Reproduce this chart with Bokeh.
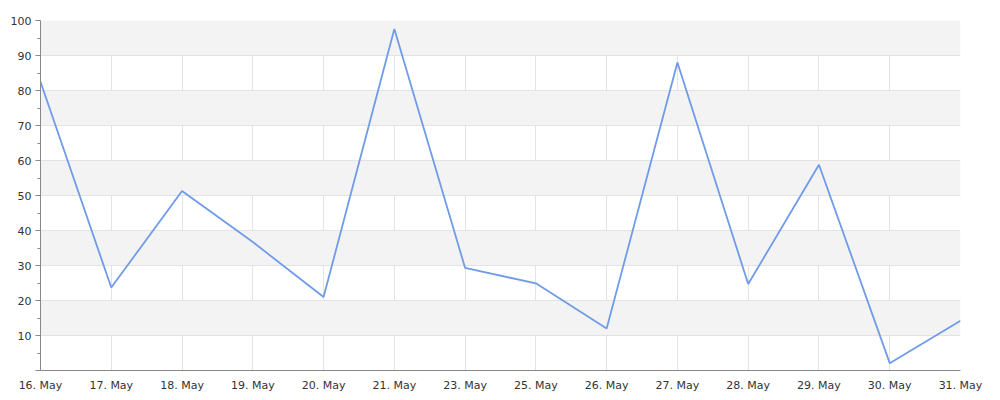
from bokeh.plotting import figure
from bokeh.models import Range1d, FixedTicker
from bokeh.embed import file_html
from bokeh.resources import INLINE

categories = ["16. May", "17. May", "18. May", "19. May", "20. May", "21. May", "23. May",
              "25. May", "26. May", "27. May", "28. May", "29. May", "30. May", "31. May"]
values = [82.5, 23.7, 51.3, 36.7, 21.0, 97.6, 29.3, 24.9, 12.0, 88.0, 24.7, 58.8, 2.1, 14.2]
y_ticks = [0, 10, 20, 30, 40, 50, 60, 70, 80, 90, 100]
y_minor = [5, 15, 25, 35, 45, 55, 65, 75, 85, 95]

xs = list(range(len(categories)))

p = figure(width=992, height=394, output_backend="svg", toolbar_location=None,
           x_range=Range1d(0, len(categories) - 1), y_range=Range1d(0, 100),
           min_border_left=40, min_border_right=32, min_border_top=20, min_border_bottom=22)
p.outline_line_color = None
p.background_fill_color = "white"

p.line(xs, values, line_color="#6f9be8", line_width=1.8)

FONT = "DejaVu Sans"
# x axis
p.xaxis.ticker = FixedTicker(ticks=xs, minor_ticks=[])
p.xaxis.major_label_overrides = {i: c for i, c in enumerate(categories)}
p.xaxis.major_tick_out = 0
p.xaxis.major_tick_in = 0
p.xaxis.minor_tick_out = 0
p.xaxis.axis_line_color = "#888888"
p.xaxis.major_label_standoff = 8
p.xaxis.major_label_text_font = FONT
p.xaxis.major_label_text_font_size = "11px"
p.xaxis.major_label_text_color = "#333333"

# y axis
p.yaxis.ticker = FixedTicker(ticks=y_ticks, minor_ticks=y_minor)
p.yaxis.major_label_overrides = {0: ""}
p.yaxis.axis_line_color = "#888888"
p.yaxis.major_tick_line_color = "#888888"
p.yaxis.minor_tick_line_color = "#888888"
p.yaxis.major_tick_out = 5
p.yaxis.major_tick_in = 0
p.yaxis.minor_tick_out = 3
p.yaxis.minor_tick_in = 0
p.yaxis.major_label_standoff = 4
p.yaxis.major_label_text_font = FONT
p.yaxis.major_label_text_font_size = "11px"
p.yaxis.major_label_text_color = "#333333"

# grids
p.xgrid.ticker = FixedTicker(ticks=xs)
p.xgrid.grid_line_color = "#e3e3e3"
p.ygrid.ticker = FixedTicker(ticks=y_ticks[1:])
p.ygrid.grid_line_color = "#e3e3e3"
p.ygrid.band_fill_color = "#f3f3f3"
p.ygrid.band_fill_alpha = 1.0

open("out.html", "w").write(file_html(p, INLINE))
